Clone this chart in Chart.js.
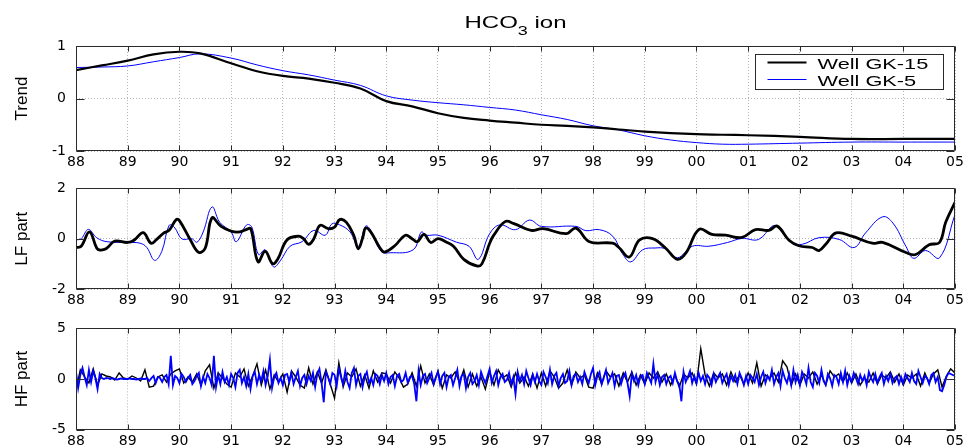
<!DOCTYPE html>
<html>
<head>
<meta charset="utf-8">
<script src="https://cdn.jsdelivr.net/npm/chart.js@4.4.1/dist/chart.umd.min.js"></script>
<style>
  body { margin: 0; background: #fff; }
  canvas { position: absolute; left: 0; }
</style>
</head>
<body>
<canvas id="trend" width="969" height="170" style="top:0"></canvas>
<canvas id="lf" width="969" height="140" style="top:170px"></canvas>
<canvas id="hf" width="969" height="138" style="top:310px"></canvas>
<script>
// HCO3 ion - trend / low-frequency / high-frequency parts, two wells

const WELLS = ['Well GK-15', 'Well GK-5'];
const X_MIN = 1988;
const X_MAX = 2005;

// Trend (same sample years for both wells)
const trendYears = [1988, 1988.5, 1989, 1989.5, 1990, 1990.4, 1991, 1991.5, 1992, 1992.5,
  1993, 1993.5, 1994, 1994.5, 1995, 1995.5, 1996, 1996.5, 1997, 1997.5,
  1998, 1998.5, 1999, 1999.5, 2000, 2000.5, 2001, 2002, 2003, 2004, 2005];
const trendGK15 = [0.54, 0.63, 0.72, 0.84, 0.89, 0.86, 0.67, 0.52, 0.43, 0.38,
  0.30, 0.19, -0.05, -0.15, -0.28, -0.37, -0.42, -0.46, -0.50, -0.52,
  -0.55, -0.59, -0.63, -0.66, -0.68, -0.69, -0.70, -0.73, -0.77, -0.77, -0.77];
const trendGK5 = [0.59, 0.60, 0.62, 0.70, 0.78, 0.85, 0.77, 0.64, 0.53, 0.45,
  0.35, 0.25, 0.05, -0.03, -0.08, -0.12, -0.17, -0.22, -0.31, -0.40,
  -0.52, -0.60, -0.71, -0.79, -0.84, -0.87, -0.87, -0.85, -0.83, -0.83, -0.83];

// LF part
const lfYearsGK15 = [1988.0, 1988.1, 1988.26, 1988.4, 1988.46, 1988.58, 1988.75, 1989.0, 1989.13, 1989.3,
  1989.45, 1989.55, 1989.7, 1989.8, 1989.94, 1990.0, 1990.2, 1990.37, 1990.5, 1990.63,
  1990.8, 1991.0, 1991.17, 1991.3, 1991.38, 1991.52, 1991.66, 1991.8, 1991.9, 1992.08,
  1992.3, 1992.4, 1992.5, 1992.6, 1992.72, 1992.88, 1993.0, 1993.1, 1993.23, 1993.37,
  1993.46, 1993.55, 1993.6, 1993.7, 1993.88, 1993.97, 1994.17, 1994.37, 1994.5, 1994.6,
  1994.73, 1994.86, 1995.0, 1995.15, 1995.3, 1995.5, 1995.75, 1995.85, 1996.0, 1996.08,
  1996.3, 1996.47, 1996.8, 1997.03, 1997.48, 1997.67, 1997.93, 1998.38, 1998.5, 1998.7,
  1998.9, 1999.15, 1999.4, 1999.63, 1999.8, 2000.05, 2000.3, 2000.56, 2000.88, 2001.14,
  2001.4, 2001.56, 2001.79, 2001.98, 2002.24, 2002.37, 2002.5, 2002.7, 2003.0, 2003.4,
  2003.6, 2004.05, 2004.24, 2004.5, 2004.7, 2004.82, 2005.0];
const lfGK15 = [-0.35, -0.3, 0.27, -0.37, -0.45, -0.4, -0.1, -0.15, -0.05, 0.24,
  -0.18, -0.05, 0.23, 0.33, 0.76, 0.72, 0, -0.54, -0.37, 0.83,
  0.5, 0.3, 0.27, 0.37, 0.4, -0.92, -0.5, -0.99, -0.82, -0.05,
  0.1, 0, -0.22, 0, 0.53, 0.4, 0.46, 0.76, 0.65, 0.14,
  -0.4, 0.08, 0.42, 0.27, -0.37, -0.53, -0.27, 0.14, 0, -0.12,
  0.17, -0.15, 0, -0.12, -0.3, -0.82, -1.08, -1.0, -0.18, 0.14,
  0.68, 0.6, 0.33, 0.4, 0.2, 0.42, -0.12, -0.18, -0.35, -0.73,
  -0.05, 0, -0.37, -0.82, -0.56, 0.37, 0.17, 0.14, 0.05, 0.36,
  0.33, 0.5, -0.06, -0.28, -0.35, -0.47, -0.22, 0.23, 0.1, -0.18,
  -0.15, -0.55, -0.63, -0.24, -0.15, 0.65, 1.45];
const lfYearsGK5 = [1988.0, 1988.1, 1988.24, 1988.4, 1988.6, 1989.0, 1989.24, 1989.37, 1989.52, 1989.66,
  1989.8, 1989.9, 1990.05, 1990.24, 1990.34, 1990.46, 1990.63, 1990.78, 1991.0, 1991.1,
  1991.3, 1991.4, 1991.53, 1991.66, 1991.82, 1991.95, 1992.14, 1992.37, 1992.6, 1992.82,
  1992.95, 1993.1, 1993.3, 1993.46, 1993.6, 1993.68, 1993.9, 1994.07, 1994.52, 1994.68,
  1994.77, 1995.0, 1995.36, 1995.6, 1995.78, 1996.0, 1996.2, 1996.5, 1996.77, 1997.0,
  1997.67, 1997.86, 1998.12, 1998.38, 1998.57, 1998.73, 1998.96, 1999.2, 1999.4, 1999.63,
  1999.92, 2000.24, 2000.6, 2000.88, 2001.2, 2001.46, 2001.56, 2001.85, 2002.05, 2002.37,
  2002.76, 2003.05, 2003.27, 2003.6, 2003.8, 2004.05, 2004.2, 2004.43, 2004.7, 2005.0];
const lfGK5 = [-0.05, 0, 0.37, 0.04, -0.12, -0.15, -0.18, -0.35, -0.86, -0.5,
  0.53, 0.46, -0.01, 0, -0.14, 0.27, 1.26, 0.65, 0.27, -0.12,
  0.55, 0.46, -0.63, -0.44, -1.12, -0.88, -0.3, -0.12, 0.33, 0.14,
  0.59, 0.55, 0.27, -0.3, 0.5, 0.4, -0.5, -0.56, -0.44, 0.27,
  0.14, 0.14, -0.14, -0.3, -0.82, 0.2, 0.55, 0.36, 0.74, 0.49,
  0.49, 0.32, 0.36, 0.1, -0.6, -0.92, -0.44, -0.37, -0.4, -0.76,
  -0.3, -0.3, -0.15, 0.01, -0.03, 0.49, 0.49, -0.15, -0.22, 0.04,
  -0.03, -0.35, 0.23, 0.87, 0.62, -0.3, -0.78, -0.47, -0.76, 0.96];

// HF part, GK-15 monthly from Jan 1988 (one row per year)
const HF_GK15_PER_YEAR = 12;
const hfGK15 = [
  -1.1, 0.9, 0.2, -0.4, 1.0, -0.6, 0.5, 0.3, 0.2, -0.1, 0.6, 0.1,
  0.0, 0.3, 0.1, -0.2, 0.9, -0.8, -0.7, 0.2, 0.4, -0.3, 0.5, 0.8,
  1.0, -0.4, 0.2, -0.3, 0.5, -0.6, 0.8, 1.4, -0.9, 0.6, 0.1, -0.5,
  -0.8, 0.6, 0.2, 1.0, -0.7, 0.3, 1.5, -0.6, 0.9, -1.0, 0.4, -0.3,
  0.5, -1.3, 0.8, 0.2, -0.6, -0.9, 1.1, -0.5, 0.7, -0.4, 0.9, -0.5,
  -1.9, 1.6, -0.8, 0.6, 0.2, 1.0, -0.7, 0.4, -0.9, 0.8, -0.3, 0.6,
  0.5, -0.4, 0.7, 0.1, -0.8, -0.5, 0.6, -0.7, 1.3, -0.4, 0.5, -0.6,
  0.8, -0.9, 0.4, 0.1, 0.7, -0.3, 0.9, -0.8, 0.5, -0.7, 0.2, -1.0,
  0.7, -0.6, 0.9, 0.1, 0.4, -0.8, 0.6, -0.4, 0.2, -0.7, 0.5, -0.9,
  0.6, -0.7, 0.8, 0.2, -0.9, -0.4, 0.9, -0.6, 0.7, 0.1, 0.4, -0.8,
  -0.9, 0.6, -0.5, 0.8, 0.2, 0.5, -0.7, 0.6, -0.3, 0.7, -0.6, 0.4,
  -0.5, 0.6, 0.1, 0.7, -0.3, 0.5, -0.6, 0.4, -0.8, 0.5, 0.1, 0.6,
  -0.5, 3.0, 0.4, -0.7, 0.6, 0.1, 0.5, -0.6, 0.7, -0.3, 0.4, -0.5,
  0.6, -0.4, 1.6, -0.7, 0.4, 0.1, 0.6, -0.3, 1.8, 1.2, -0.6, 0.5,
  -0.6, 0.5, 0.1, 0.7, -0.5, 0.4, -0.6, 0.8, 0.2, 0.5, -0.3, 0.6,
  -0.4, 0.5, -0.6, 0.1, -0.3, 0.6, -0.5, 0.4, 0.1, 0.7, -0.3, 0.5,
  -0.6, 0.4, 0.1, 0.5, -0.7, 0.6, -0.4, 0.5, 0.9, -0.8, 0.3, 1.0,
  0.6];

// HF part, GK-5 twice a month from Jan 1988 (one row per year)
const HF_GK5_PER_YEAR = 24;
const hfGK5 = [
  0.7, -0.9, 0.4, 1.1, 0.2, -0.6, 0.9, -0.3, 0.8, 0.1, -1.0, 0.5, 0.1, 0.0, 0.1, 0.05, 0.0, 0.1, 0.0, -0.05, 0.0, 0.05, 0.0, 0.0,
  0.0, 0.05, 0.0, 0.0, -0.05, 0.0, 0.05, 0.0, 0.0, 0.1, -0.2, 0.1, 0.3, -0.4, 0.2, 0.1, -0.3, 0.2, 0.4, -0.5, 2.3, -0.6, 0.3, 0.1,
  -0.4, 0.5, 0.2, -0.3, 0.1, 0.4, -0.5, -0.2, 0.3, 0.6, -0.7, 0.2, -0.4, 0.5, 0.1, -0.6, 2.3, -0.8, 0.4, -0.5, 0.7, -0.3, 0.2, -0.6,
  0.5, 0.1, -0.8, 0.6, 0.9, -0.4, 0.2, -0.7, 0.5, -1.0, 0.3, 0.7, -0.5, 0.4, -0.2, 0.8, -0.6, 0.3, 1.9, -0.9, 0.2, 0.6, -0.4, 0.1,
  -0.6, 0.4, 0.5, -0.3, 0.6, -0.5, 0.2, 0.8, -0.7, 0.1, 0.4, -0.5, 0.3, -0.2, 0.6, -0.8, 0.5, 1.0, -0.4, -2.3, 0.7, 0.2, -0.5, 0.6,
  0.4, -0.7, 1.0, 0.2, -0.5, 0.8, -0.3, -0.9, 0.6, 1.1, -0.6, 0.3, 0.5, -0.8, 0.2, 0.7, -0.4, 0.1, -0.6, 0.5, 0.3, -0.5, 0.4, -0.2,
  0.6, -0.5, 0.2, 0.4, -0.7, 0.3, 0.5, -0.3, -0.1, 0.6, -0.4, 0.2, 0.3, -0.5, -2.2, 0.8, -0.6, 0.3, 0.5, -0.4, 0.1, 0.6, -0.5, 0.2,
  0.7, -0.5, 0.3, 0.6, -0.8, 0.2, 0.4, -0.6, 0.1, 0.9, -0.7, 0.3, 0.5, -0.9, 0.2, 0.6, -0.5, -0.2, 0.4, -0.6, 0.7, 0.1, -0.4, 0.3,
  1.0, -0.4, 0.3, 0.8, -0.6, 0.2, 0.5, -0.3, -0.1, 0.6, -0.5, 0.2, -1.5, 0.7, -0.2, 0.4, -0.5, 0.8, 0.1, -0.6, 0.4, -0.3, 0.5, -0.2,
  -0.6, 0.7, 0.2, -0.4, 0.9, -0.5, 0.3, 0.6, -0.7, 0.1, 0.5, -0.4, -0.2, 0.8, -0.6, 0.3, 0.5, -0.3, 0.2, -0.5, 0.7, 0.1, -0.4, 0.5,
  1.1, -0.6, 0.3, 0.7, -0.5, 0.2, 0.9, -0.4, 0.1, 0.6, -0.7, 0.3, 0.4, -0.5, 0.2, 0.6, -0.4, -1.7, 0.5, -0.2, 0.4, -0.6, 0.3, 0.4,
  -0.5, 0.6, 0.1, -0.4, 1.5, -0.3, 0.5, -0.6, 0.2, 0.4, -0.5, 0.1, 0.3, -0.4, 0.6, -0.2, -0.5, -2.2, 0.7, -0.3, 0.2, 0.8, -0.4, 0.3,
  -0.4, 0.6, -0.2, 0.3, -0.5, 0.4, 0.1, -0.6, 0.5, -0.3, 0.2, 0.6, -0.4, 0.1, 0.5, -0.6, 0.3, -0.2, 0.4, -0.5, 0.6, 0.1, -0.6, 0.3,
  -0.5, 0.4, 0.1, -0.3, 0.5, -0.6, 0.2, 0.7, -0.4, 0.3, -0.1, 0.9, -0.5, 0.2, 0.6, -0.7, 0.8, 0.1, -0.4, 0.5, -0.6, 0.9, -0.3, 0.4,
  -0.6, 0.7, 0.2, -0.5, 1.1, -0.3, -0.8, 0.6, 0.3, -0.4, 0.9, -0.2, -0.6, 0.5, 0.1, -0.7, 0.4, 0.2, -0.5, 0.6, -0.3, 0.8, -0.6, 0.3,
  -0.3, 0.6, 0.1, -0.5, 0.4, -0.2, 0.3, -0.6, 0.7, 0.1, -0.3, 0.5, -0.4, 0.2, 0.6, -0.5, 0.3, -0.2, 0.5, -0.4, 0.1, 0.3, -0.5, 0.2,
  -0.4, 0.5, 0.1, -0.3, 0.6, -0.2, -0.5, 0.8, 0.2, -0.4, 0.3, 0.1, -0.5, 0.4, 0.6, -0.3, 0.2, -1.1, -1.2, -0.6, 0.2, 0.6, 0.5, 0.4,
  0.3];

const TICK_FONT = 'DejaVu Sans';
const TEXT_FONT = 'Liberation Sans';

function pairs(xs, ys) {
  return ys.map((y, i) => ({ x: xs[i], y: y }));
}

function hfPoints(ys, perYear) {
  return ys.map((y, i) => ({ x: X_MIN + i / perYear, y: y }));
}

// box round the plot area + matlab style inward ticks
const frame = {
  id: 'frame',
  afterDraw(chart) {
    const { ctx, chartArea: a, scales: { x, y } } = chart;
    const L = Math.round(a.left) + 0.5, R = Math.round(a.right) - 0.5;
    const T = Math.round(a.top) + 0.5, B = Math.round(a.bottom) - 0.5;
    ctx.save();
    ctx.strokeStyle = '#2a2a2a';
    ctx.lineWidth = 1;
    ctx.beginPath();
    x.ticks.forEach(t => {
      const px = Math.round(x.getPixelForValue(t.value)) + 0.5;
      ctx.moveTo(px, T); ctx.lineTo(px, T + 5);
      ctx.moveTo(px, B); ctx.lineTo(px, B - 5);
    });
    y.ticks.forEach(t => {
      const py = Math.round(y.getPixelForValue(t.value)) + 0.5;
      ctx.moveTo(L, py); ctx.lineTo(L + 8, py);
      ctx.moveTo(R, py); ctx.lineTo(R - 8, py);
    });
    ctx.rect(L, T, R - L, B - T);
    ctx.stroke();
    ctx.restore();
  }
};

function wideText(ctx, text, x, y, sx) {
  ctx.save();
  ctx.translate(x, y);
  ctx.scale(sx, 1);
  ctx.fillText(text, 0, 0);
  ctx.restore();
}

// title with subscript and the boxed legend inside the top panel
const titleLegend = {
  id: 'titleLegend',
  afterDraw(chart) {
    const { ctx, chartArea: a } = chart;
    const sx = 1.5;
    ctx.save();
    ctx.fillStyle = '#000';
    ctx.textBaseline = 'alphabetic';
    ctx.textAlign = 'left';

    ctx.font = '16px "' + TEXT_FONT + '"';
    const w1 = ctx.measureText('HCO').width * sx;
    const w3 = ctx.measureText(' ion').width * sx;
    ctx.font = '12px "' + TEXT_FONT + '"';
    const w2 = ctx.measureText('3').width * sx;
    let tx = (a.left + a.right) / 2 - (w1 + w2 + w3) / 2;
    ctx.font = '16px "' + TEXT_FONT + '"';
    wideText(ctx, 'HCO', tx, 28, sx);
    ctx.font = '12px "' + TEXT_FONT + '"';
    wideText(ctx, '3', tx + w1, 35, sx);
    ctx.font = '16px "' + TEXT_FONT + '"';
    wideText(ctx, ' ion', tx + w1 + w2, 28, sx);

    // legend
    const bx = 755.5, by = 54.5, bw = 188, bh = 35;
    ctx.fillStyle = '#fff';
    ctx.fillRect(bx, by, bw, bh);
    ctx.strokeStyle = '#2a2a2a';
    ctx.lineWidth = 1;
    ctx.strokeRect(bx, by, bw, bh);
    ctx.font = '15px "' + TEXT_FONT + '"';
    chart.data.datasets.forEach((ds, i) => {
      const ly = by + 8 + i * 17;
      ctx.strokeStyle = ds.borderColor;
      ctx.lineWidth = ds.borderWidth;
      ctx.beginPath();
      ctx.moveTo(bx + 12, ly);
      ctx.lineTo(bx + 51, ly);
      ctx.stroke();
      ctx.fillStyle = '#000';
      wideText(ctx, ds.label, bx + 62, ly + 6, 1.45);
    });
    ctx.restore();
  }
};

function makePanel(id, opts) {
  return new Chart(document.getElementById(id), {
    type: 'line',
    data: { datasets: opts.datasets },
    options: {
      responsive: false,
      animation: false,
      layout: { padding: { top: opts.padTop, right: 14, left: 0, bottom: 0 } },
      plugins: { legend: { display: false }, tooltip: { enabled: false } },
      elements: { point: { radius: 0 } },
      scales: {
        x: {
          type: 'linear',
          min: X_MIN,
          max: X_MAX,
          afterFit: s => { s.height = opts.axisHeight; },
          ticks: {
            stepSize: 1,
            autoSkip: false,
            maxRotation: 0,
            padding: 3,
            color: '#000',
            font: { family: TICK_FONT, size: 14 },
            callback: v => String(Math.round(v) % 100).padStart(2, '0')
          },
          grid: { color: '#b5b5b5', drawTicks: false },
          border: { display: false, dash: [1, 2] }
        },
        y: {
          min: -opts.limit,
          max: opts.limit,
          afterFit: s => { s.width = 76; },
          ticks: {
            stepSize: opts.limit,
            padding: 10,
            color: '#000',
            font: { family: TICK_FONT, size: 14 },
            callback: v => String(v)
          },
          grid: { color: '#b5b5b5', drawTicks: false },
          border: { display: false, dash: [1, 2] },
          title: {
            display: true,
            text: opts.title,
            color: '#000',
            font: { family: TEXT_FONT, size: 17 },
            padding: { top: 12, bottom: 0 }
          }
        }
      }
    },
    plugins: [frame].concat(opts.extra || [])
  });
}

makePanel('trend', {
  padTop: 46, axisHeight: 19, limit: 1, title: 'Trend',
  extra: [titleLegend],
  datasets: [
    { label: WELLS[0], data: pairs(trendYears, trendGK15), borderColor: '#000000', borderWidth: 2.2, tension: 0.4 },
    { label: WELLS[1], data: pairs(trendYears, trendGK5), borderColor: '#0000ff', borderWidth: 1, tension: 0.4 }
  ]
});

makePanel('lf', {
  padTop: 15, axisHeight: 21, limit: 2, title: 'LF part',
  datasets: [
    { label: WELLS[0], data: pairs(lfYearsGK15, lfGK15), borderColor: '#000000', borderWidth: 2.8, tension: 0.4 },
    { label: WELLS[1], data: pairs(lfYearsGK5, lfGK5), borderColor: '#0000ff', borderWidth: 1, tension: 0.4 }
  ]
});

makePanel('hf', {
  padTop: 15, axisHeight: 18, limit: 5, title: 'HF part',
  datasets: [
    { label: WELLS[0], data: hfPoints(hfGK15, HF_GK15_PER_YEAR), borderColor: '#000000', borderWidth: 1.4, tension: 0, order: 1 },
    { label: WELLS[1], data: hfPoints(hfGK5, HF_GK5_PER_YEAR), borderColor: '#0000ff', borderWidth: 1.8, tension: 0, order: 0 }
  ]
});
</script>
</body>
</html>
